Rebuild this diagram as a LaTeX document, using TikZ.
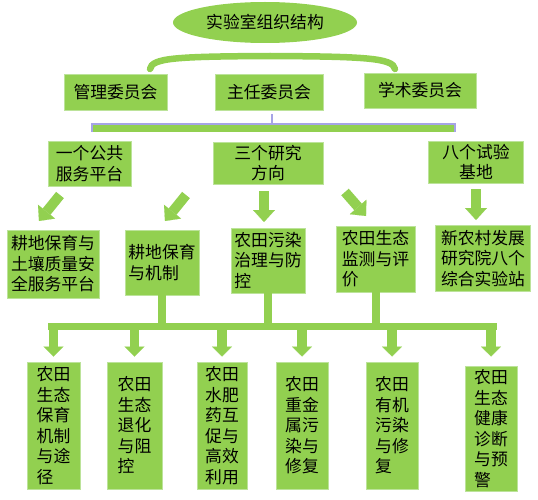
\documentclass[tikz,border=0pt]{standalone}
\usepackage{fontspec}
\setmainfont{Noto Sans CJK SC}
\usetikzlibrary{arrows.meta,shapes.geometric}
\definecolor{gr}{HTML}{92D050}
\definecolor{grline}{HTML}{BCE39A}
\definecolor{lav}{HTML}{A6A4E6}
\begin{document}
\begin{tikzpicture}[x=1pt,y=-1pt,
  txt/.style={font=\fontsize{16.8}{20.5}\selectfont,text=black},
  box/.style={txt,fill=gr,draw=grline,line width=0.8pt,inner sep=0pt},
  wh/.style 2 args={minimum width=#1pt,minimum height=#2pt},
  bigarrow/.style={draw=gr,line width=10pt,-{Triangle[width=22pt,length=12pt,line width=0.1pt]}},
  stem/.style={draw=gr,line width=8pt},
  busline/.style={draw=gr,line width=7.5pt},
  branch/.style={draw=gr,line width=9.5pt,-{Triangle[width=20pt,length=10pt,line width=0.1pt]}}]
\useasboundingbox (0,0) rectangle (538,500);

% title
\node[txt,ellipse,fill=gr,inner sep=0pt,minimum width=184pt,minimum height=41pt] (title) at (265,22.5) {实验室组织结构};

% row 1
\node[box,wh={103}{36},align=center] (m1) at (115.5,92) {管理委员会};
\node[box,wh={108}{36},align=center] (m2) at (269,92) {主任委员会};
\node[box,wh={112}{35},align=center] (m3) at (420,90.5) {学术委员会};

% arc over row 1
\coordinate (arcL) at (150,69);
\coordinate (arcR) at (395,69);
\draw[gr,line width=6.5pt,line cap=round] (arcL) .. controls (152,58) and (175,56.5) .. (270,56) .. controls (365,56.5) and (393,58) .. (arcR);

% bracket under row 1
\fill[gr] (92,124) rectangle (455,132);
\draw[lav,line width=1.2pt] (92,132) -- (92,124) -- (455,124) -- (455,132);
\draw[lav,line width=1.2pt] ([yshift=-4pt]m2.south -| 272,0) -- (272,124);

% row 2
\node[box,wh={83}{45},align=center] (r2a) at (89.5,163.5) {一个公共\\服务平台};
\node[box,wh={110}{42},align=center] (r2b) at (268,163) {三个研究\\方向};
\node[box,wh={95}{42},align=center] (r2c) at (476,162) {八个试验\\基地};

% row 3
\node[box,wh={92}{68},align=left] (r3a) at (53,264) {耕地保育与\\土壤质量安\\全服务平台};
\node[box,wh={74}{65},align=left] (r3b) at (162,262.5) {耕地保育\\与机制};
\node[box,wh={74}{65},align=left] (r3c) at (268,260.5) {农田污染\\治理与防\\控};
\node[box,wh={79}{66},align=left] (r3d) at (375.5,259) {农田生态\\监测与评\\价};
\node[box,wh={95}{66},align=left] (r3e) at (483,258.5) {新农村发展\\研究院八个\\综合实验站};

% arrows row 2 -> row 3
\coordinate (a1s) at (60,195);  \coordinate (a1e) at (39,221);
\coordinate (a2s) at (186,195); \coordinate (a2e) at (165,221);
\coordinate (a3s) at (264,191); \coordinate (a3e) at (264,222);
\coordinate (a4s) at (345,192); \coordinate (a4e) at (366,216);
\coordinate (a5s) at (476,189); \coordinate (a5e) at (476,220);
\draw[bigarrow] (a1s) -- (a1e);
\draw[bigarrow] (a2s) -- (a2e);
\draw[bigarrow] (a3s) -- (a3e);
\draw[bigarrow] (a4s) -- (a4e);
\draw[bigarrow] (a5s) -- (a5e);

% bottom row
\node[box,wh={53}{127},align=left] (b1) at (53.5,425.5) {农田\\生态\\保育\\机制\\与途\\径};
\node[box,wh={55}{127},align=left] (b2) at (134.5,425.5) {农田\\生态\\退化\\与阻\\控};
\node[box,wh={50}{127},align=left] (b3) at (222,425.5) {农田\\水肥\\药互\\促与\\高效\\利用};
\node[box,wh={52}{127},align=left] (b4) at (302,425.5) {农田\\重金\\属污\\染与\\修复};
\node[box,wh={52}{127},align=left] (b5) at (392,425.5) {农田\\有机\\污染\\与修\\复};
\node[box,wh={52}{125},align=left] (b6) at (491,428.5) {农田\\生态\\健康\\诊断\\与预\\警};

% bus connector
\coordinate (barL) at (48,326.5);
\coordinate (barR) at (497,326.5);
\coordinate (bartop) at (0,323);
\coordinate (tipline) at (0,356.5);
\draw[stem] (r3b.south) -- (r3b.south |- barL);
\draw[stem] (r3c.south) -- (r3c.south |- barL);
\draw[stem] (r3d.south) -- (r3d.south |- barL);
\draw[busline] (barL) -- (barR);
\foreach \b in {b1,b2,b3,b4,b5,b6}{
  \draw[branch] (\b.north |- bartop) -- (\b.north |- tipline);
}
\end{tikzpicture}
\end{document}
